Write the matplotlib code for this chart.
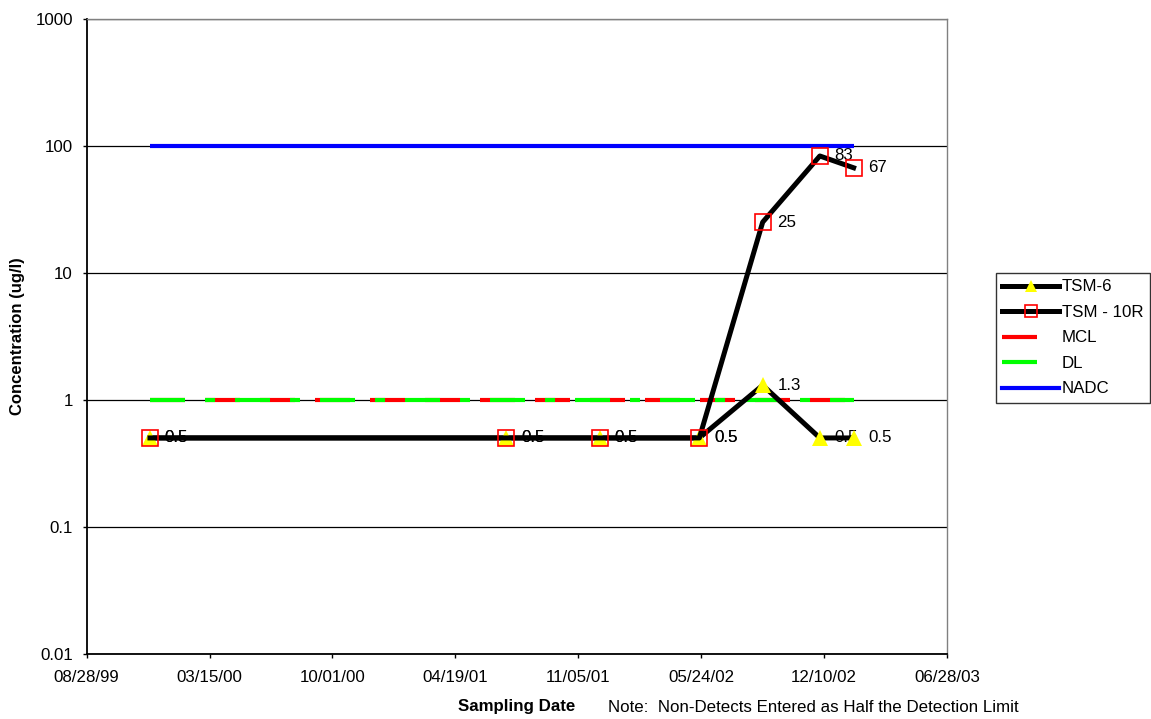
import numpy as np
import matplotlib
matplotlib.use("Agg")
import matplotlib.pyplot as plt
import matplotlib.dates as mdates
from matplotlib.lines import Line2D
from matplotlib.ticker import FixedLocator, FixedFormatter, NullLocator

plt.rcParams['font.family'] = ['Liberation Sans', 'DejaVu Sans']
plt.rcParams['lines.scale_dashes'] = False

# Sampling dates and results
sample_dates = ['1999-12-09', '2001-07-11', '2001-12-10', '2002-05-21',
                '2002-09-01', '2002-12-03', '2003-01-27']
tsm6 = [0.5, 0.5, 0.5, 0.5, 1.3, 0.5, 0.5]
tsm10r = [0.5, 0.5, 0.5, 0.5, 25, 83, 67]
mcl = [1, 1, 1, 1, 1, 1, 1]
dl = [1, 1, 1, 1, 1, 1, 1]
nadc = [100, 100, 100, 100, 100, 100, 100]

y_ticks = [0.01, 0.1, 1, 10, 100, 1000]
y_tick_labels = ['0.01', '0.1', '1', '10', '100', '1000']
x_start, x_end, x_step_days = '1999-08-28', '2003-06-28', 200

FS = 12.2
x = mdates.date2num(np.array(sample_dates, dtype='datetime64[D]'))

fig = plt.figure(figsize=(11.51, 7.19), dpi=100)
ax = fig.add_axes([0.0753, 0.0908, 0.7475, 0.8832])

ax.set_yscale('log')
ax.set_ylim(0.01, 1000)
x0 = mdates.date2num(np.datetime64(x_start))
x1 = mdates.date2num(np.datetime64(x_end))
ax.set_xlim(x0, x1)

# reference lines
ax.plot(x, nadc, color='#0000FF', lw=3.0, solid_capstyle='butt', zorder=3)
ax.plot(x, mcl, color='#FF0000', lw=3.0, dashes=(25.2, 14.4),
        dash_capstyle='butt', zorder=3)
ax.plot(x, dl, color='#00FF00', lw=3.0, dashes=(25.2, 14.4, 7.2, 14.4),
        dash_capstyle='butt', zorder=3)

# monitoring wells
ax.plot(x, tsm6, color='black', lw=3.6, marker='^', ms=11.5,
        markerfacecolor='#FFFF00', markeredgewidth=0, zorder=4)
ax.plot(x, tsm10r, color='black', lw=3.6, marker='s', ms=11.5,
        markerfacecolor='none', markeredgecolor='#FF0000', markeredgewidth=1.2, zorder=5)

for series in (tsm6, tsm10r):
    for xi, v in zip(x, series):
        ax.annotate(f'{v:g}', (xi, v), xytext=(10.5, 0), textcoords='offset points',
                    va='center', ha='left', fontsize=FS, zorder=2)

# axes styling
ax.yaxis.set_major_locator(FixedLocator(y_ticks))
ax.yaxis.set_major_formatter(FixedFormatter(y_tick_labels))
ax.yaxis.set_minor_locator(NullLocator())
xt = np.arange(x0, x1 + 1, x_step_days)
ax.set_xticks(xt)
ax.set_xticklabels([mdates.num2date(t).strftime('%m/%d/%y') for t in xt])
ax.tick_params(axis='both', direction='out', length=3, width=1, labelsize=FS, colors='black')
ax.tick_params(axis='x', pad=8.5)
ax.tick_params(axis='y', pad=7)
ax.grid(True, axis='y', which='major', color='black', lw=0.9)
ax.set_axisbelow(True)
for s in ('left', 'bottom'):
    ax.spines[s].set_color('black')
    ax.spines[s].set_linewidth(1.3)
for s in ('top', 'right'):
    ax.spines[s].set_color('#808080')
    ax.spines[s].set_linewidth(1.0)

fig.text(0.0155, 1 - 336 / 719, 'Concentration (ug/l)', rotation=90, fontsize=12,
         fontweight='bold', ha='center', va='center')
fig.text(458 / 1151, 1 - 707 / 719, 'Sampling Date', fontsize=FS, fontweight='bold',
         ha='left', va='center')
fig.text(608 / 1151, 1 - 707 / 719, 'Note:  Non-Detects Entered as Half the Detection Limit',
         fontsize=FS, ha='left', va='center')

# legend keys
handles = [
    Line2D([], [], color='black', lw=3.6, marker='^', ms=9, markerfacecolor='#FFFF00',
           markeredgewidth=0),
    Line2D([], [], color='black', lw=3.6, marker='s', ms=8, markerfacecolor='none',
           markeredgecolor='#FF0000', markeredgewidth=1.2),
    Line2D([], [], color='#FF0000', lw=3.0, dashes=(25.2, 100), dash_capstyle='butt'),
    Line2D([], [], color='#00FF00', lw=3.0, dashes=(25.2, 100), dash_capstyle='butt'),
    Line2D([], [], color='#0000FF', lw=3.0),
]
labels = ['TSM-6', 'TSM - 10R', 'MCL', 'DL', 'NADC']
leg = fig.legend(handles=handles, labels=labels, loc='upper left',
                 bbox_to_anchor=(996 / 1151, 1 - 273 / 719), borderaxespad=0,
                 fontsize=FS, numpoints=1, handlelength=3.35, handletextpad=0.15,
                 labelspacing=0.62, borderpad=0.38, fancybox=False, frameon=True)
leg.get_frame().set_edgecolor('black')
leg.get_frame().set_linewidth(1.0)

fig.savefig('out.png', dpi=100)
